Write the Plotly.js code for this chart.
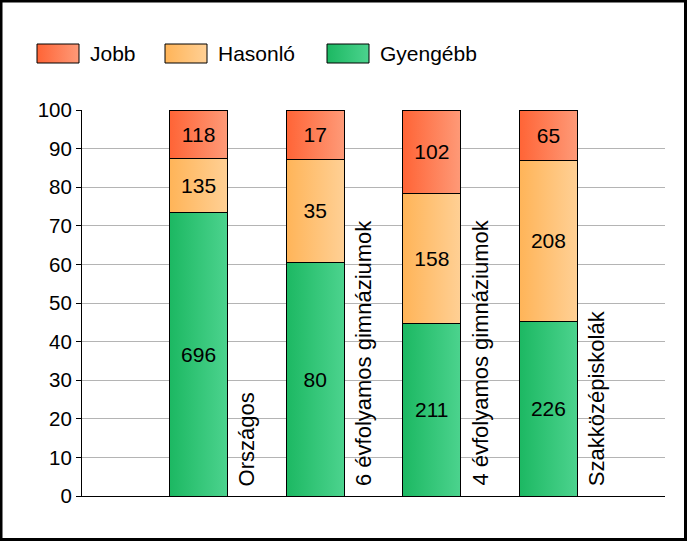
<!DOCTYPE html>
<html>
<head>
<meta charset="utf-8">
<script src="https://cdn.plot.ly/plotly-3.0.1.min.js"></script>
<style>
html,body{margin:0;padding:0;background:#fff;}
#chart{width:687px;height:541px;}
</style>
</head>
<body>
<div id="chart"></div>
<script>
const categories = ["Országos", "6 évfolyamos gimnáziumok", "4 évfolyamos gimnáziumok", "Szakközépiskolák"];
const gyengebb = [696, 80, 211, 226];
const hasonlo = [135, 35, 158, 208];
const jobb = [118, 17, 102, 65];
const seriesNames = ["Jobb", "Hasonló", "Gyengébb"];
const yTicks = [0, 10, 20, 30, 40, 50, 60, 70, 80, 90, 100];

const totals = categories.map((c, i) => gyengebb[i] + hasonlo[i] + jobb[i]);
const pct = arr => arr.map((v, i) => v / totals[i] * 100);
const xpos = categories.map((c, i) => i + 1);

const colors = {Jobb: "#fe8256", "Hasonló": "#ffc274", "Gyengébb": "#30c274"};
const gradients = {
  Jobb: ["#ff6436", "#fe9a78"],
  "Hasonló": ["#ffb458", "#ffd095"],
  "Gyengébb": ["#1cb862", "#4cd38e"]
};
const FONT = "Liberation Sans, Arial, sans-serif";

function barTrace(name, vals) {
  return {
    type: "bar", name: name, x: xpos, y: pct(vals),
    text: vals.map(String), textposition: "inside", insidetextanchor: "middle",
    textangle: 0, textfont: {family: FONT, size: 21, color: "#000"},
    marker: {color: colors[name], line: {color: "#000", width: 1}},
    width: 0.5, hoverinfo: "skip", showlegend: false
  };
}
const data = [barTrace("Gyengébb", gyengebb), barTrace("Hasonló", hasonlo), barTrace("Jobb", jobb)];

const annotations = categories.map((c, i) => ({
  x: xpos[i] + 0.41, y: 0, xref: "x", yref: "y", text: c, showarrow: false,
  textangle: -90, xanchor: "center", yanchor: "bottom", yshift: 8,
  font: {family: FONT, size: 22, color: "#000"}
}));

// legend built from series names
const legendSw = [[37, 79], [165, 207], [327, 369]];
const legendTx = [88, 216, 378];
const L = 82, W = 583, B = 496, H = 386;
const shapes = [];
seriesNames.forEach((n, i) => {
  shapes.push({type: "rect", xref: "paper", yref: "paper",
    x0: (legendSw[i][0] - L) / W, x1: (legendSw[i][1] - L) / W,
    y0: (B - 63) / H, y1: (B - 44) / H,
    fillcolor: colors[n], line: {color: "#000", width: 1}});
  annotations.push({xref: "paper", yref: "paper", x: (legendTx[i] - L) / W, y: (B - 54) / H,
    xanchor: "left", yanchor: "middle", text: n, showarrow: false,
    font: {family: FONT, size: 21, color: "#000"}});
});
shapes.push({type: "rect", xref: "paper", yref: "paper", x0: (1 - L) / W, x1: (685.5 - L) / W,
  y0: (B - 539.5) / H, y1: (B - 1) / H, line: {color: "#000", width: 3}, fillcolor: "rgba(0,0,0,0)", layer: "above"});

const layout = {
  width: 687, height: 541,
  margin: {l: 82, r: 22, t: 110, b: 45},
  paper_bgcolor: "#fff", plot_bgcolor: "#fff",
  barmode: "stack", showlegend: false,
  xaxis: {range: [0, 5], showticklabels: false, ticks: "", showgrid: false, zeroline: false,
    showline: true, linecolor: "#000", linewidth: 1, fixedrange: true},
  yaxis: {range: [0, 100], tickvals: yTicks, ticktext: yTicks.map(String), ticks: "outside", ticklen: 5,
    tickcolor: "#000", showline: true, linecolor: "#000", linewidth: 1,
    gridcolor: "#b4b4b4", gridwidth: 1, zeroline: false,
    tickfont: {family: FONT, size: 20.5, color: "#000"}, fixedrange: true},
  shapes: shapes,
  annotations: annotations,
  font: {family: FONT}
};

Plotly.newPlot("chart", data, layout, {displayModeBar: false, staticPlot: true}).then(gd => {
  const svg = gd.querySelector(".main-svg");
  let defs = svg.querySelector("defs");
  const NS = "http://www.w3.org/2000/svg";
  Object.keys(gradients).forEach((n, k) => {
    const lg = document.createElementNS(NS, "linearGradient");
    lg.setAttribute("id", "grad" + k);
    lg.setAttribute("x1", "0"); lg.setAttribute("y1", "0");
    lg.setAttribute("x2", "1"); lg.setAttribute("y2", "0");
    gradients[n].forEach((c, j) => {
      const st = document.createElementNS(NS, "stop");
      st.setAttribute("offset", j === 0 ? "0" : "1");
      st.setAttribute("stop-color", c);
      lg.appendChild(st);
    });
    defs.appendChild(lg);
  });
  const gid = n => "url(#grad" + Object.keys(gradients).indexOf(n) + ")";
  const traces = gd.querySelectorAll(".barlayer .trace");
  traces.forEach((t, ti) => {
    const name = data[ti].name;
    t.querySelectorAll("path").forEach(p => { p.style.fill = gid(name); });
  });
  const shapePaths = gd.querySelectorAll(".shapelayer path");
  shapePaths.forEach(p => {
    const idx = +p.getAttribute("data-index");
    if (idx < seriesNames.length) p.style.fill = gid(seriesNames[idx]);
  });
});
</script>
</body>
</html>
